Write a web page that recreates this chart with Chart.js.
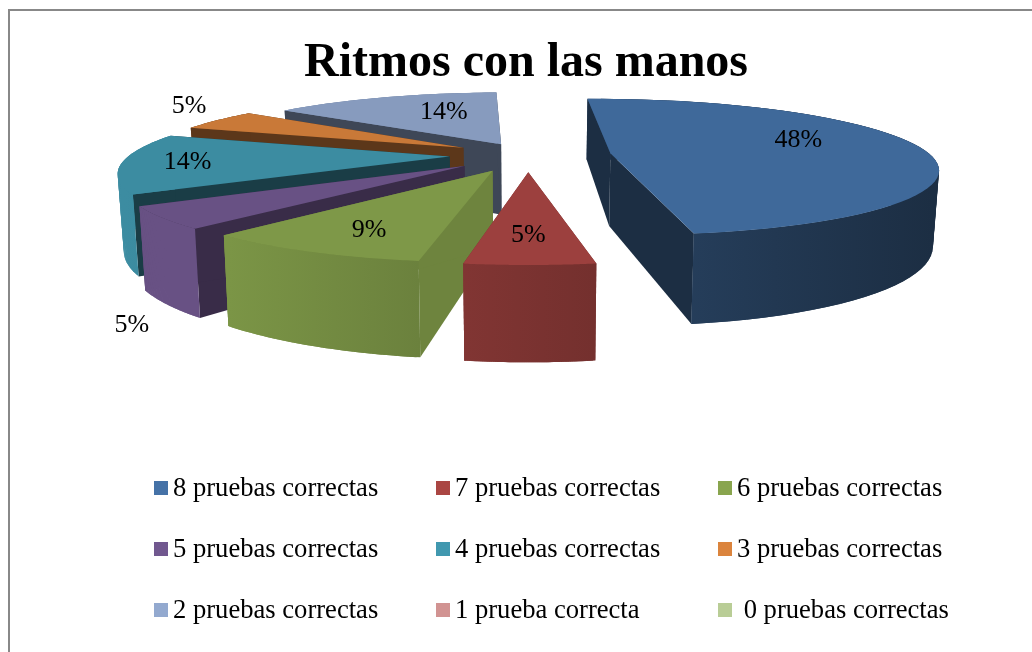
<!DOCTYPE html>
<html>
<head>
<meta charset="utf-8">
<style>
  html, body { margin: 0; padding: 0; background: #fff; overflow: hidden; }
  #frame { position: absolute; left: 8px; top: 9px; width: 1030px; height: 650px; border-left: 2px solid #888; border-top: 2px solid #888; }
  canvas { position: absolute; left: 0; top: 0; }
  #legend { position: absolute; left: 154px; top: 457px; display: grid; grid-template-columns: 282px 282px 282px; grid-auto-rows: 61px;
            font: 26.6px "Liberation Serif", serif; color: #000; }
  #legend div { display: flex; align-items: center; white-space: pre; height: 61px; }
  #legend i { width: 14px; height: 14px; margin-right: 5px; display: block; }
</style>
<script src="https://cdn.jsdelivr.net/npm/chart.js@4"></script>
</head>
<body>
<div id="frame"></div>
<canvas id="chart" width="1032" height="652"></canvas>
<div id="legend"></div>
<script>
const categories = ["8 pruebas correctas", "7 pruebas correctas", "6 pruebas correctas",
  "5 pruebas correctas", "4 pruebas correctas", "3 pruebas correctas",
  "2 pruebas correctas", "1 prueba correcta", " 0 pruebas correctas"];
const percentages = [48, 5, 9, 5, 14, 5, 14, 0, 0];
const colors = ["#4572A7", "#AA4643", "#89A54E", "#71588F", "#4198AF", "#DB843D", "#93A9CF", "#D19392", "#B9CD96"];
// explosion of each slice, percent of the radius
const explosion = [26, 25, 25, 25, 24.5, 23.5, 19, 0, 0];

// look of the 3d pie
const view = { cx: 528, cy: 155, rx: 320, ry: 66, persp: 0.2, depth: 73, bottomScale: 0.985, topShade: 0.92 };
const wallShade = [0.4, 0.7, 0.8, 0.5, 0.4, 0.42, 0.42, 1, 1];
const rimShade = [[0.6, 0.4], [0.76, 0.68], [0.9, 0.78], [0.92, 0.92], [0.92, 0.9], [0.6, 0.6], [0.85, 0.8], [1, 1], [1, 1]];
const labelRadius = [0.675, 0.706, 0.745, 1.65, 0.805, 1.32, 0.647, 0, 0];
const labelTurn = [-15.3, 0.2, -1.2, -27.8, 1.7, 8.9, 7.6, 0, 0];

function project(u, v, low) {
  const w = 1 / (1 - view.persp * v);
  let x = view.rx * u * w;
  let y = view.cy + view.ry * v * w;
  if (low) {
    x *= view.bottomScale;
    y += view.depth * w;
  }
  return { x: view.cx + x, y: y };
}

function shade(hex, k) {
  const n = parseInt(hex.slice(1), 16);
  return `rgb(${((n >> 16) & 255) * k},${((n >> 8) & 255) * k},${(n & 255) * k})`;
}

function fillPoly(ctx, pts, fill) {
  ctx.beginPath();
  pts.forEach((p, i) => (i ? ctx.lineTo(p.x, p.y) : ctx.moveTo(p.x, p.y)));
  ctx.closePath();
  ctx.fillStyle = fill;
  ctx.fill();
}

function sliceCentre(arc) {
  const mid = (arc.startAngle + arc.endAngle) / 2;
  const e = arc.options.offset / 100;
  return { mid, u: e * Math.cos(mid), v: e * Math.sin(mid) };
}

function drawSlice(ctx, arc, i) {
  const c = sliceCentre(arc);
  const color = colors[i];
  const top = [], low = [], sin = [];
  const steps = 60;
  for (let s = 0; s <= steps; s++) {
    const a = arc.startAngle + (arc.endAngle - arc.startAngle) * s / steps;
    const u = c.u + Math.cos(a);
    const v = c.v + Math.sin(a);
    top.push(project(u, v, false));
    low.push(project(u, v, true));
    sin.push(Math.sin(a));
  }
  const apexTop = project(c.u, c.v, false);
  const apexLow = project(c.u, c.v, true);
  const wall = shade(color, wallShade[i]);

  const xs = low.map(p => p.x);
  const grad = ctx.createLinearGradient(Math.min(...xs), 0, Math.max(...xs), 0);
  grad.addColorStop(0, shade(color, rimShade[i][0]));
  grad.addColorStop(1, shade(color, rimShade[i][1]));
  // the rim is swept strip by strip, each strip overlaps the next so no seams show
  const rim = keep => {
    for (let s = 0; s < steps; s++) {
      if (!keep(sin[s])) continue;
      const n = Math.min(s + 2, steps);
      fillPoly(ctx, [top[s], top[n], low[n], low[s]], grad);
    }
  };

  // back of the rim, then the straight walls, then the front of the rim
  rim(k => k < 0);
  fillPoly(ctx, [apexTop, top[0], low[0], apexLow], wall);
  fillPoly(ctx, [apexTop, top[steps], low[steps], apexLow], wall);
  rim(k => k >= 0);

  // top face
  fillPoly(ctx, [apexTop].concat(top), shade(color, view.topShade));
}

const pie3d = {
  id: "pie3d",
  beforeDatasetsDraw(chart) {
    const ctx = chart.ctx;
    const arcs = chart.getDatasetMeta(0).data;
    const order = arcs.map((arc, i) => i)
      .filter(i => percentages[i] > 0)
      .sort((a, b) => sliceCentre(arcs[a]).v - sliceCentre(arcs[b]).v);
    ctx.save();
    order.forEach(i => drawSlice(ctx, arcs[i], i));
    ctx.fillStyle = "#000";
    ctx.font = '26px "Liberation Serif"';
    ctx.textAlign = "center";
    ctx.textBaseline = "middle";
    order.forEach(i => {
      const c = sliceCentre(arcs[i]);
      const a = c.mid + labelTurn[i] * Math.PI / 180;
      const p = project(c.u + labelRadius[i] * Math.cos(a), c.v + labelRadius[i] * Math.sin(a), false);
      ctx.fillText(percentages[i] + "%", p.x, p.y + 2);
    });
    ctx.restore();
    return false;
  },
};

const chart = new Chart(document.getElementById("chart"), {
  type: "pie",
  data: {
    labels: categories,
    datasets: [{ data: percentages, backgroundColor: colors, offset: explosion, borderWidth: 0 }],
  },
  options: {
    responsive: false,
    animation: false,
    rotation: -2,
    layout: { padding: { left: 20, top: 35 } },
    plugins: {
      legend: { display: false },
      tooltip: { enabled: false },
      title: {
        display: true,
        text: "Ritmos con las manos",
        color: "#000",
        font: { family: '"Liberation Serif"', size: 48, weight: "bold" },
        padding: 0,
      },
    },
  },
  plugins: [pie3d],
});

// legend sits in three even columns, so it is built as html
const legendBox = document.getElementById("legend");
Chart.overrides.pie.plugins.legend.labels.generateLabels(chart).forEach(item => {
  const row = document.createElement("div");
  const box = document.createElement("i");
  box.style.background = item.fillStyle;
  row.appendChild(box);
  row.appendChild(document.createTextNode(item.text));
  legendBox.appendChild(row);
});
</script>
</body>
</html>
